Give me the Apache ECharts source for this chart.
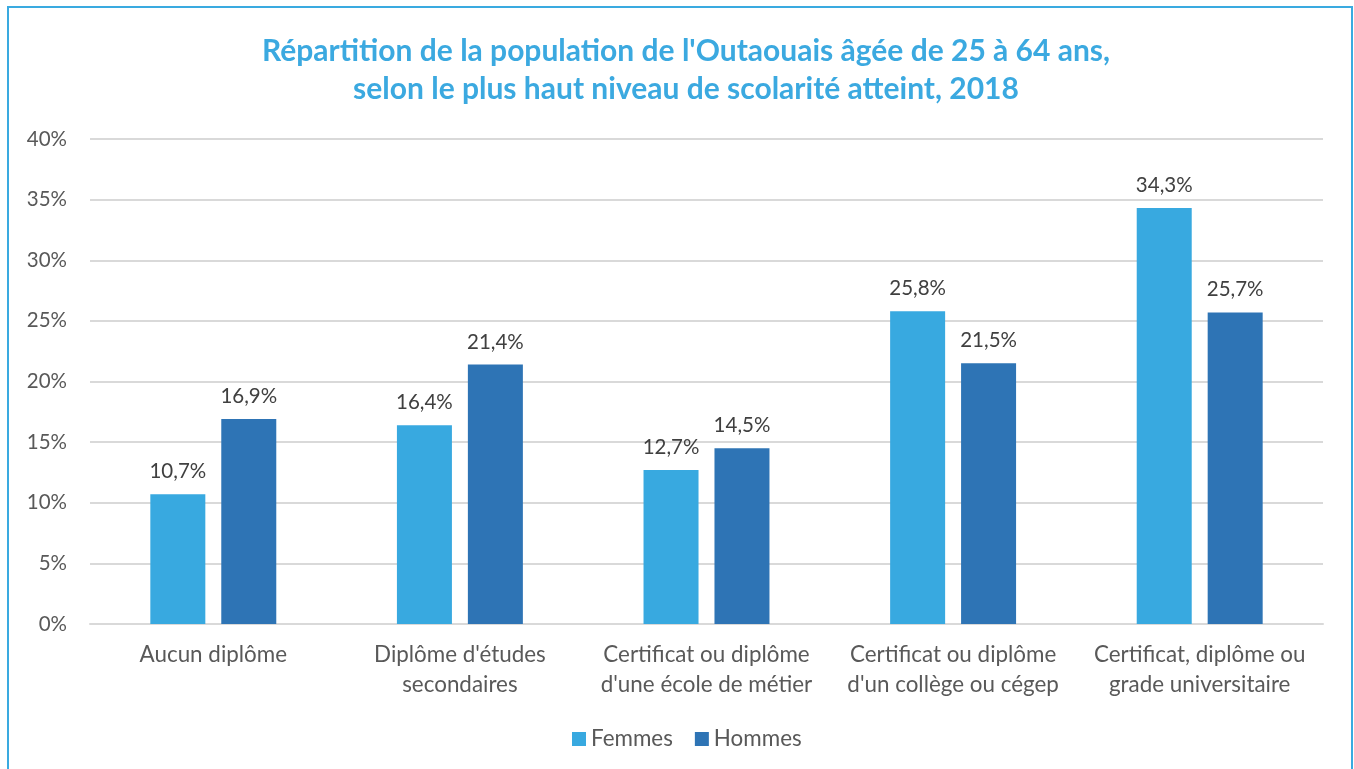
<!DOCTYPE html>
<html>
<head>
<meta charset="utf-8">
<script src="https://cdn.jsdelivr.net/npm/echarts@6/dist/echarts.min.js"></script>
<style>
html,body{margin:0;padding:0;background:#fff;}
#chart{width:1354px;height:769px;}
</style>
</head>
<body>
<div id="chart"></div>
<script>
const titleLines = ["Répartition de la population de l'Outaouais âgée de 25 à 64 ans,", "selon le plus haut niveau de scolarité atteint, 2018"];
const categories = ["Aucun diplôme", "Diplôme d'études\nsecondaires", "Certificat ou diplôme\nd'une école de métier", "Certificat ou diplôme\nd'un collège ou cégep", "Certificat, diplôme ou\ngrade universitaire"];
const seriesNames = ["Femmes", "Hommes"];
const femmes = [10.7, 16.4, 12.7, 25.8, 34.3];
const hommes = [16.9, 21.4, 14.5, 21.5, 25.7];
const yTicks = [0, 5, 10, 15, 20, 25, 30, 35, 40];

const FONT = "Lato";
const chart = echarts.init(document.getElementById('chart'), null, {renderer: 'canvas'});
const fmt = v => v.toFixed(1).replace('.', ',') + '%';
chart.setOption({
  animation: false,
  backgroundColor: '#ffffff',
  textStyle: {fontFamily: FONT},
  graphic: [{
    type: 'rect', silent: true, z: -1,
    shape: {x: 8, y: 7, width: 1344, height: 800},
    style: {fill: 'none', stroke: '#3AAAE0', lineWidth: 2}
  }],
  title: {
    text: titleLines.join('\n'),
    left: 681, top: 27, textAlign: 'center',
    textStyle: {fontFamily: FONT, fontWeight: 'bold', fontSize: 30, color: '#3BA9E0', lineHeight: 38}
  },
  legend: {
    data: seriesNames, top: 723, left: 567,
    itemWidth: 14, itemHeight: 14, itemGap: 22,
    icon: 'rect',
    textStyle: {fontFamily: FONT, fontSize: 22.4, color: '#595959'}
  },
  grid: {left: 90, right: 31, top: 139, bottom: 145, containLabel: false},
  xAxis: {
    type: 'category', data: categories,
    axisTick: {show: false},
    axisLine: {lineStyle: {color: '#d9d9d9', width: 2}},
    axisLabel: {fontFamily: FONT, fontSize: 22.4, color: '#595959', lineHeight: 30, margin: 16, interval: 0}
  },
  yAxis: {
    type: 'value', min: yTicks[0], max: yTicks[yTicks.length-1], interval: 5,
    axisLine: {show: false}, axisTick: {show: false},
    splitLine: {lineStyle: {color: '#d9d9d9', width: 2}},
    axisLabel: {fontFamily: FONT, fontSize: 20.5, color: '#595959', margin: 23, formatter: v => v + '%'}
  },
  series: [
    {name: seriesNames[0], type: 'bar', data: femmes, barWidth: 55, barGap: '29%',
     itemStyle: {color: '#38A9E0'},
     label: {show: true, position: 'top', distance: 12, fontFamily: FONT, fontSize: 20.5, color: '#404040', formatter: p => fmt(p.value)}},
    {name: seriesNames[1], type: 'bar', data: hommes, barWidth: 55,
     itemStyle: {color: '#2E74B5'},
     label: {show: true, position: 'top', distance: 12, fontFamily: FONT, fontSize: 20.5, color: '#404040', formatter: p => fmt(p.value)}}
  ]
});
</script>
</body>
</html>
